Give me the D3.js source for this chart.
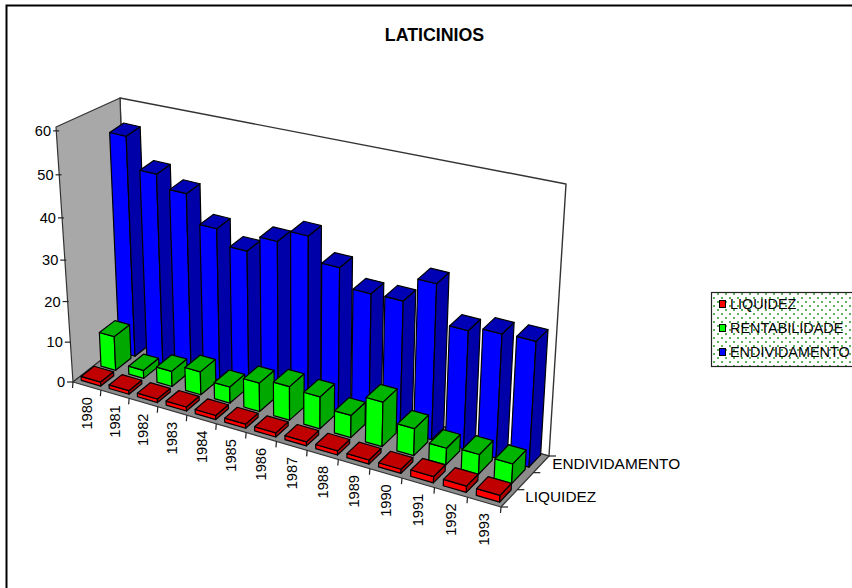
<!DOCTYPE html>
<html><head><meta charset="utf-8">
<script src="https://cdn.jsdelivr.net/npm/d3@7/dist/d3.min.js"></script>
<style>html,body{margin:0;padding:0;background:#fff}svg{display:block}text{font-family:"Liberation Sans",Arial,sans-serif;fill:#000}</style>
</head><body><svg id="c" width="852" height="588"></svg>
<script>
const title = "LATICINIOS";
const years = ["1980","1981","1982","1983","1984","1985","1986","1987","1988","1989","1990","1991","1992","1993"];
const seriesNames = ["LIQUIDEZ","RENTABILIDADE","ENDIVIDAMENTO"];
const liquidez = [1.0,0.9,0.9,1.0,1.0,1.0,1.0,1.0,1.0,1.0,1.0,1.5,1.5,1.6];
const rentabilidade = [8.5,2.0,3.8,5.7,4.0,7.0,8.2,7.8,5.4,10.7,6.5,4.0,4.7,4.7];
const endividamento = [53.4,46.2,43.3,36.8,33.3,37.3,40.3,34.8,30.6,30.8,36.6,27.8,29,29.3];
const valueTicks = [0,10,20,30,40,50,60];
const seriesColors = [
  {front:"#ff0000",top:"#c00000",side:"#a80000"},
  {front:"#00ff00",top:"#00b400",side:"#00a800"},
  {front:"#0000ff",top:"#0000b4",side:"#0000a8"}];
const allValues = [liquidez,rentabilidade,endividamento];
const barFraction = [0.70,0.53,0.57];
const barShift = [0.002,0.005,0.005];
const depthBack = [0.30,0.68,0.98];

// box frame on screen
const A=[73,382],B=[501,507],C=[549,456],D=[128,339];
const At=[56,127],Dt=[120,98],Ct=[566,184];
const fitAt=[55,125],fitDt=[121,104],fitCt=[566,184];

function quadMap(p0,p1,p2,p3){
  const dx1=p1[0]-p2[0],dx2=p3[0]-p2[0],dx3=p0[0]-p1[0]+p2[0]-p3[0];
  const dy1=p1[1]-p2[1],dy2=p3[1]-p2[1],dy3=p0[1]-p1[1]+p2[1]-p3[1];
  const den=dx1*dy2-dx2*dy1;
  const g=(dx3*dy2-dx2*dy3)/den,h=(dx1*dy3-dx3*dy1)/den;
  return {a:p1[0]-p0[0]+g*p1[0],b:p3[0]-p0[0]+h*p3[0],c:p0[0],
          d:p1[1]-p0[1]+g*p1[1],e:p3[1]-p0[1]+h*p3[1],f:p0[1],g,h};
}
const H=quadMap(A,B,C,D);
const base=(u,v)=>[H.a*u+H.b*v+H.c,H.d*u+H.e*v+H.f,H.g*u+H.h*v+1];
function solve3(M,r){
  const m=M.map((row,i)=>[...row,r[i]]);
  for(let i=0;i<3;i++){
    let p=i;for(let k=i+1;k<3;k++)if(Math.abs(m[k][i])>Math.abs(m[p][i]))p=k;
    [m[i],m[p]]=[m[p],m[i]];
    for(let k=0;k<3;k++)if(k!==i){const f=m[k][i]/m[i][i];for(let j=i;j<4;j++)m[k][j]-=f*m[i][j];}
  }
  return m.map((row,i)=>row[3]/row[i]);
}
const tops=[[fitAt,0,0],[fitDt,0,1],[fitCt,1,1]];
const rows=[],rhs=[];
tops.forEach(([s,u,v])=>{const [X,Y,W]=base(u,v);
  rows.push([1,0,-s[0]]);rhs.push(s[0]*W-X);
  rows.push([0,1,-s[1]]);rhs.push(s[1]*W-Y);});
const N=[0,1,2].map(i=>[0,1,2].map(j=>d3.sum(rows,r=>r[i]*r[j])));
const R=[0,1,2].map(i=>d3.sum(rows,(r,k)=>r[i]*rhs[k]));
const [za,zb,zc]=solve3(N,R);
function project(u,v,z){const [X,Y,W]=base(u,v);const w=W+zc*z;return [(X+za*z)/w,(Y+zb*z)/w];}

const uScale=d3.scaleBand().domain(years).range([0,1]).paddingInner(0.27).paddingOuter(0.135);
const uStep=d3.scaleLinear().domain([0,years.length]).range([0,1]);
const vScale=d3.scaleBand().domain(seriesNames).range([0,1]).paddingInner(0.4).paddingOuter(0.2);
const vStep=d3.scaleLinear().domain([0,seriesNames.length]).range([0,1]);
const zScale=d3.scaleLinear().domain([0,60]).range([0,1]);

const svg=d3.select("#c");
const defs=svg.append("defs");
const pat=defs.append("pattern").attr("id","dots").attr("width",8).attr("height",8).attr("patternUnits","userSpaceOnUse");
pat.append("rect").attr("width",8).attr("height",8).attr("fill","#fff");
[[1,1],[5,5]].forEach(d=>pat.append("rect").attr("x",d[0]).attr("y",d[1]).attr("width",2).attr("height",2).attr("fill","#5fb35f"));

// outer frame
svg.append("path").attr("d","M6.5,588V5.5H852").attr("fill","none").attr("stroke","#000").attr("stroke-width",2);

const pathOf=pts=>"M"+pts.map(p=>p[0].toFixed(2)+","+p[1].toFixed(2)).join("L")+"Z";
const G=svg.append("g");
const face=(pts,fill,sw=1.2,stroke="#000")=>G.append("path").attr("d",pathOf(pts)).attr("fill",fill).attr("stroke",stroke).attr("stroke-width",sw).attr("stroke-linejoin","round");
face([D,C,Ct,Dt],"#fff",1.4,"#333");
face([A,D,Dt,At],"#a8a8a8",1.2,"#333");
face([A,B,C,D],"#8c8c8c",1.2,"#333");

// bars, back to front
[2,1,0].forEach(s=>{
  const name=seriesNames[s],cols=seriesColors[s];
  const v0=vScale(name),v1=depthBack[s];
  years.forEach((y,i)=>{
    const u0=uScale(y)+barShift[s],u1=u0+uScale.step()*barFraction[s],z=zScale(allValues[s][i]);
    face([project(u0,v0,0),project(u1,v0,0),project(u1,v0,z),project(u0,v0,z)],cols.front);
    face([project(u1,v0,0),project(u1,v1,0),project(u1,v1,z),project(u1,v0,z)],cols.side);
    face([project(u0,v0,z),project(u1,v0,z),project(u1,v1,z),project(u0,v1,z)],cols.top);
  });
});

const line=(a,b)=>G.append("line").attr("x1",a[0]).attr("y1",a[1]).attr("x2",b[0]).attr("y2",b[1]).attr("stroke","#222").attr("stroke-width",1.2);
// value axis
valueTicks.forEach(t=>{
  const p=project(0,0,zScale(t));
  line(p,[p[0]-6,p[1]]);
  G.append("text").attr("x",p[0]-8).attr("y",p[1]+5).attr("text-anchor","end").attr("font-size",14.6).text(t);
});
// category axis
d3.range(years.length+1).forEach(i=>{
  const u=uStep(i),p=project(u,0,0);
  line(p,[p[0]-0.5,p[1]+6]);
});
years.forEach((y,i)=>{
  const p=project(uStep(i+0.5),0,0);
  G.append("text").attr("transform",`translate(${p[0]+5},${p[1]+11}) rotate(-90)`).attr("text-anchor","end").attr("font-size",14.6).text(y);
});
// series axis
d3.range(seriesNames.length+1).forEach(i=>{
  const p=project(1,vStep(i),0);
  line(p,[p[0]+7,p[1]]);
});
[[0,"LIQUIDEZ",16,4],[2,"ENDIVIDAMENTO",11,5]].forEach(([i,t,dx,dy])=>{
  const p=project(1,vStep(i+0.5),0);
  G.append("text").attr("x",p[0]+dx).attr("y",p[1]+dy).attr("font-size",15.4).text(t);
});
// title
svg.append("text").attr("x",434.5).attr("y",41).attr("text-anchor","middle").attr("font-size",17.8).attr("font-weight","bold").text(title);
// legend
const L=svg.append("g");
L.append("rect").attr("x",711.5).attr("y",292.5).attr("width",142).attr("height",74).attr("fill","url(#dots)").attr("stroke","#222").attr("stroke-width",1.2);
const legY=d3.scalePoint().domain(seriesNames).range([304,352]);
seriesNames.forEach((n,i)=>{
  L.append("rect").attr("x",719.5).attr("y",legY(n)-3.5).attr("width",6).attr("height",7).attr("fill",seriesColors[i].front).attr("stroke","#000");
  L.append("text").attr("x",730).attr("y",legY(n)+5).attr("font-size",14.4).text(n);
});
</script></body></html>
